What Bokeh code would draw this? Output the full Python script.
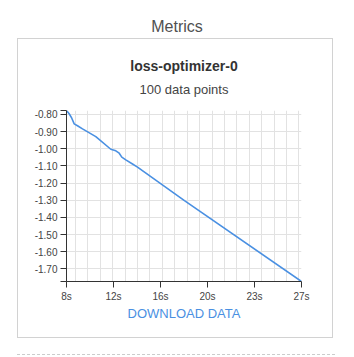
from bokeh.plotting import figure
from bokeh.models import Range1d, FixedTicker, Title, Div
from bokeh.layouts import column
from bokeh.embed import file_html
from bokeh.resources import INLINE
import numpy as np

# ---- data ----
time_s = [8.275, 8.49, 8.70, 8.895, 9.16, 9.565, 10.636, 11.845, 12.248,
          12.522, 12.731, 13.053, 13.593, 13.996, 17.78, 27.21]
loss = [-0.777, -0.796, -0.822, -0.855, -0.866, -0.884, -0.929, -1.003,
        -1.012, -1.026, -1.049, -1.065, -1.089, -1.107, -1.302, -1.774]

x_tick_labels = ["8s", "12s", "16s", "20s", "23s", "27s"]
y_tick_values = [-0.80, -0.90, -1.00, -1.10, -1.20, -1.30, -1.40, -1.50, -1.60, -1.70]
y_tick_labels = ["-0.80", "-0.90", "-1.00", "-1.10", "-1.20", "-1.30",
                 "-1.40", "-1.50", "-1.60", "-1.70"]
x_grid_seconds = list(range(9, 28))

page_title = "Metrics"
chart_title = "loss-optimizer-0"
chart_subtitle = "100 data points"
link_text = "DOWNLOAD DATA"

FONT = "Liberation Sans"

x0, x1 = time_s[0], time_s[-1]
y0, y1 = min(loss), max(loss)

p = figure(width=316, height=300, output_backend="svg", toolbar_location=None,
           x_range=Range1d(x0, x1), y_range=Range1d(y0, y1),
           min_border_left=48, min_border_right=33, min_border_top=71,
           min_border_bottom=58, title=None,
           styles={"border": "1px solid #d2d2d2"}, margin=(0, 0, 0, 17))
p.outline_line_color = None
p.background_fill_color = "white"
p.border_fill_color = "white"

p.line(time_s, loss, line_color="#4a90e2", line_width=1.6)

# x axis: evenly spaced ticks between first and last timestamp
x_tick_values = [float(v) for v in np.linspace(x0, x1, len(x_tick_labels))]
p.xaxis.ticker = FixedTicker(ticks=x_tick_values)
p.xaxis.major_label_overrides = {v: l for v, l in zip(x_tick_values, x_tick_labels)}

# y axis with outer ticks at the range ends
p.yaxis.ticker = FixedTicker(ticks=y_tick_values + [y0, y1])
ov = {v: l for v, l in zip(y_tick_values, y_tick_labels)}
ov[y0] = ""
ov[y1] = ""
p.yaxis.major_label_overrides = ov

for ax in (p.xaxis[0], p.yaxis[0]):
    ax.axis_line_color = "#333333"
    ax.major_tick_line_color = "#333333"
    ax.major_tick_out = 6
    ax.major_tick_in = 0
    ax.minor_tick_out = 0
    ax.minor_tick_in = 0
    ax.major_label_standoff = 3
    ax.major_label_text_font = FONT
    ax.major_label_text_font_size = "10px"
    ax.major_label_text_color = "#444444"

p.xgrid.ticker = FixedTicker(ticks=x_grid_seconds)
p.ygrid.ticker = FixedTicker(ticks=y_tick_values)
p.xgrid.grid_line_color = "#e2e2e2"
p.ygrid.grid_line_color = "#e2e2e2"

# titles: first added to "above" sits closest to the frame
p.add_layout(Title(text=chart_subtitle, align="center", text_font=FONT,
                   text_font_size="13px", text_font_style="normal",
                   text_color="#444444", standoff=28), "above")
p.add_layout(Title(text=chart_title, align="center", text_font=FONT,
                   text_font_size="14px", text_font_style="bold",
                   text_color="#333333", standoff=-16), "above")
p.add_layout(Title(text=link_text, align="center", text_font=FONT,
                   text_font_size="13px", text_font_style="normal",
                   text_color="#4a90e2", standoff=-1), "below")

header = Div(text=page_title, width=354, height=38, margin=0,
             styles={"font-family": FONT, "font-size": "16px", "color": "#505050",
                     "text-align": "center", "line-height": "54px"})
sep = Div(text="", width=318, height=1, margin=(16, 0, 0, 17),
          styles={"border-top": "1px dashed #cccccc"})

layout = column(header, p, sep, spacing=0)
open("out.html", "w").write(file_html(layout, INLINE))
